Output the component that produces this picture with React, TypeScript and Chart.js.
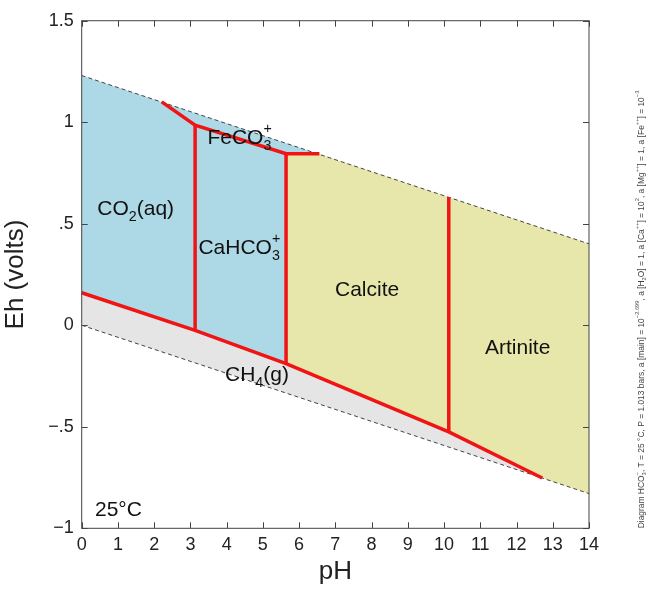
import React, { useEffect, useRef } from 'react';
import { Chart, registerables } from 'chart.js';

Chart.register(...registerables);

const FONT = '"Liberation Sans", Arial, Helvetica, sans-serif';

// ---- tick values / labels ----
const pHTickValues = [0, 1, 2, 3, 4, 5, 6, 7, 8, 9, 10, 11, 12, 13, 14];
const ehTickValues = [-1, -0.5, 0, 0.5, 1, 1.5];
const ehTickLabels = ['\u22121', '\u2212.5', '0', '.5', '1', '1.5'];

// ---- water stability limits (dashed) ----
const waterUpperPH = [0, 14];
const waterUpperEh = [1.23, 0.401];
const waterLowerPH = [0, 14];
const waterLowerEh = [0, -0.829];

// ---- red boundaries ----
const reducedBoundaryPH = [0, 3.13, 5.64, 10.13, 12.71];
const reducedBoundaryEh = [0.16, -0.025, -0.189, -0.525, -0.752];

const feBoundaryPH = [2.21, 3.13, 5.64, 6.56];
const feBoundaryEh = [1.1, 0.985, 0.845, 0.845];

const verticalPH = [3.13, 5.64, 10.13];
const verticalLowEh = [-0.025, -0.189, -0.525];
const verticalHighEh = [0.985, 0.845, 0.632];

// ---- filled fields ----
const aqueousRegionPH = [0, 0, 6.56, 5.64, 5.64, 3.13];
const aqueousRegionEh = [0.16, 1.23, 0.842, 0.845, -0.189, -0.025];

const mineralRegionPH = [5.64, 5.64, 6.56, 14, 14, 12.71, 10.13];
const mineralRegionEh = [-0.189, 0.845, 0.842, 0.401, -0.829, -0.752, -0.525];

const gasRegionPH = [0, 3.13, 5.64, 10.13, 12.71, 0];
const gasRegionEh = [0.16, -0.025, -0.189, -0.525, -0.752, 0];

// ---- field labels (text) ----
type Part = { t?: string; sub?: string; sup?: string };
const fieldLabelTexts: Part[][] = [
  [{ t: 'CO' }, { sub: '2' }, { t: '(aq)' }],
  [{ t: 'FeCO' }, { sub: '3', sup: '+' }],
  [{ t: 'CaHCO' }, { sub: '3', sup: '+' }],
  [{ t: 'Calcite' }],
  [{ t: 'Artinite' }],
  [{ t: 'CH' }, { sub: '4' }, { t: '(g)' }],
  [{ t: '25\u00b0C' }],
];
const fieldLabelPH = [0.43, 3.47, 3.22, 6.99, 11.13, 3.955, 0.367];
const fieldLabelEh = [0.542, 0.891, 0.35, 0.144, -0.141, -0.274, -0.938];

const sideNote: Part[] = [
  { t: 'Diagram HCO' }, { sub: '3', sup: '\u2212' },
  { t: ', T = 25 \u00b0C, P = 1.013 bars, a [main] = 10' }, { sup: '\u22122.699' },
  { t: ', a [H' }, { sub: '2' }, { t: 'O] = 1, a [Ca' }, { sup: '++' },
  { t: '] = 10' }, { sup: '2' }, { t: ', a [Mg' }, { sup: '++' },
  { t: '] = 1, a [Fe' }, { sup: '++' }, { t: '] = 10' }, { sup: '\u22123' },
];

const pts = (xs: number[], ys: number[]) => xs.map((x, i) => ({ x, y: ys[i] }));

function richWidth(ctx: CanvasRenderingContext2D, parts: Part[], size: number) {
  let w = 0;
  for (const p of parts) {
    if (p.t !== undefined) {
      ctx.font = `${size}px ${FONT}`;
      w += ctx.measureText(p.t).width;
    } else {
      ctx.font = `${size * 0.68}px ${FONT}`;
      w += Math.max(p.sub ? ctx.measureText(p.sub).width : 0, p.sup ? ctx.measureText(p.sup).width : 0);
    }
  }
  return w;
}

function drawRich(ctx: CanvasRenderingContext2D, parts: Part[], x: number, y: number, size: number) {
  let cx = x;
  ctx.textAlign = 'left';
  ctx.textBaseline = 'alphabetic';
  for (const p of parts) {
    if (p.t !== undefined) {
      ctx.font = `${size}px ${FONT}`;
      ctx.fillText(p.t, cx, y);
      cx += ctx.measureText(p.t).width;
    } else {
      ctx.font = `${size * 0.68}px ${FONT}`;
      let w = 0;
      if (p.sub) {
        ctx.fillText(p.sub, cx, y + size * 0.29);
        w = Math.max(w, ctx.measureText(p.sub).width);
      }
      if (p.sup) {
        ctx.fillText(p.sup, cx, y - size * 0.55);
        w = Math.max(w, ctx.measureText(p.sup).width);
      }
      cx += w;
    }
  }
}

const decorPlugin = {
  id: 'decor',
  afterDatasetsDraw(chart: any) {
    const ctx: CanvasRenderingContext2D = chart.ctx;
    const xs = chart.scales.x;
    const ys = chart.scales.y;
    ctx.save();
    ctx.fillStyle = '#111';
    fieldLabelTexts.forEach((parts, i) => {
      drawRich(ctx, parts, xs.getPixelForValue(fieldLabelPH[i]), ys.getPixelForValue(fieldLabelEh[i]), 21);
    });
    ctx.restore();
  },
  afterDraw(chart: any) {
    const ctx: CanvasRenderingContext2D = chart.ctx;
    const { left, right, top, bottom } = chart.chartArea;
    const xs = chart.scales.x;
    const ys = chart.scales.y;
    ctx.save();
    ctx.strokeStyle = '#444';
    ctx.lineWidth = 1;
    ctx.strokeRect(left, top, right - left, bottom - top);
    const tl = 6;
    ctx.beginPath();
    pHTickValues.forEach((v) => {
      const px = Math.round(xs.getPixelForValue(v)) + 0.5;
      ctx.moveTo(px, bottom);
      ctx.lineTo(px, bottom - tl);
      ctx.moveTo(px, top);
      ctx.lineTo(px, top + tl);
    });
    ehTickValues.forEach((v) => {
      const py = Math.round(ys.getPixelForValue(v)) + 0.5;
      ctx.moveTo(left, py);
      ctx.lineTo(left + tl, py);
      ctx.moveTo(right, py);
      ctx.lineTo(right - tl, py);
    });
    ctx.stroke();

    // side note, rotated
    const span = bottom - 90;
    const base = 8;
    const w = richWidth(ctx, sideNote, base);
    const size = (base * span) / w;
    ctx.translate(644, bottom);
    ctx.rotate(-Math.PI / 2);
    ctx.fillStyle = '#444';
    drawRich(ctx, sideNote, 0, 0, size);
    ctx.restore();
  },
};

export default function App() {
  const ref = useRef<HTMLCanvasElement | null>(null);

  useEffect(() => {
    if (!ref.current) return;
    const red = '#f01414';
    const redLine = (data: { x: number; y: number }[]) => ({
      data,
      borderColor: red,
      borderWidth: 3.5,
      pointRadius: 0,
      fill: false,
      tension: 0,
    });
    const dashed = (data: { x: number; y: number }[]) => ({
      data,
      borderColor: '#444',
      borderWidth: 1,
      borderDash: [4, 3],
      pointRadius: 0,
      fill: false,
      tension: 0,
    });
    const region = (data: { x: number; y: number }[], color: string) => ({
      data,
      borderWidth: 0,
      borderColor: 'rgba(0,0,0,0)',
      backgroundColor: color,
      pointRadius: 0,
      fill: 'shape',
      tension: 0,
    });

    const datasets: any[] = [
      redLine(pts(reducedBoundaryPH, reducedBoundaryEh)),
      redLine(pts(feBoundaryPH, feBoundaryEh)),
      ...verticalPH.map((p, i) => redLine(pts([p, p], [verticalLowEh[i], verticalHighEh[i]]))),
      dashed(pts(waterUpperPH, waterUpperEh)),
      dashed(pts(waterLowerPH, waterLowerEh)),
      region(pts(aqueousRegionPH, aqueousRegionEh), '#add8e6'),
      region(pts(mineralRegionPH, mineralRegionEh), '#e7e7ab'),
      region(pts(gasRegionPH, gasRegionEh), '#e5e5e5'),
    ];

    const chart = new Chart(ref.current, {
      type: 'line',
      data: { datasets },
      plugins: [decorPlugin],
      options: {
        animation: false,
        responsive: false,
        devicePixelRatio: 1,
        layout: { padding: { top: 20.7, right: 64, bottom: 0, left: 0 } },
        plugins: { legend: { display: false }, tooltip: { enabled: false } },
        scales: {
          x: {
            type: 'linear',
            min: 0,
            max: 14,
            grid: { display: false, drawTicks: false },
            border: { display: false },
            ticks: {
              stepSize: 1,
              autoSkip: false,
              maxRotation: 0,
              padding: 6,
              color: '#222',
              font: { family: FONT, size: 18 },
            },
            title: {
              display: true,
              text: 'pH',
              color: '#222',
              font: { family: FONT, size: 26 },
              padding: { top: 0, bottom: 2 },
            },
            afterFit: (s: any) => {
              s.height = 60.7;
            },
          },
          y: {
            type: 'linear',
            min: -1,
            max: 1.5,
            grid: { display: false, drawTicks: false },
            border: { display: false },
            ticks: {
              stepSize: 0.5,
              padding: 8,
              color: '#222',
              font: { family: FONT, size: 18 },
              callback: (v: any) => {
                const i = ehTickValues.findIndex((t) => Math.abs(t - Number(v)) < 1e-9);
                return i >= 0 ? ehTickLabels[i] : '';
              },
            },
            title: {
              display: true,
              text: 'Eh (volts)',
              color: '#222',
              font: { family: FONT, size: 26 },
              padding: { top: 0, bottom: 0 },
            },
            afterFit: (s: any) => {
              s.width = 81.7;
            },
          },
        },
      } as any,
    });
    return () => chart.destroy();
  }, []);

  return (
    <div style={{ position: 'absolute', left: 0, top: 0, width: 653, height: 589, background: '#fff' }}>
      <canvas ref={ref} width={653} height={589} style={{ display: 'block', width: 653, height: 589 }} />
    </div>
  );
}
